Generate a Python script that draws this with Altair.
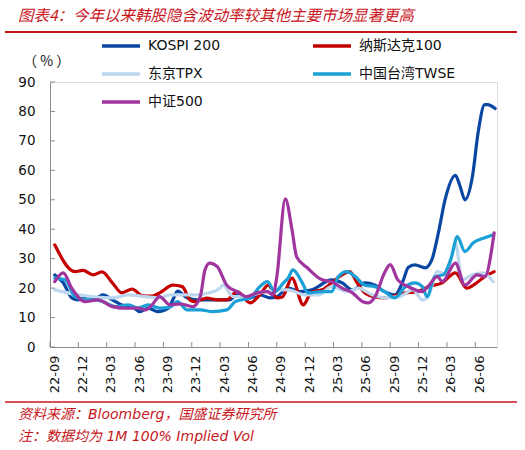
import altair as alt
import pandas as pd

title_text = "图表4：今年以来韩股隐含波动率较其他主要市场显著更高"
source_text = "资料来源：Bloomberg，国盛证券研究所"
note_text = "注：数据均为 1M 100% Implied Vol"
unit_text = "（ % ）"

series_names = ["KOSPI 200", "纳斯达克100", "东京TPX", "中国台湾TWSE", "中证500"]
series_colors = ["#0A47A3", "#C40000", "#BDD7EE", "#1AA0D6", "#A0359F"]

x_labels = ["22-09", "22-12", "23-03", "23-06", "23-09", "23-12", "24-03", "24-06",
            "24-09", "24-12", "25-03", "25-06", "25-09", "25-12", "26-03", "26-06"]
x_tick_months = [0, 3, 6, 9, 12, 15, 18, 21, 24, 27, 30, 33, 36, 39, 42, 45]
y_ticks = [0, 10, 20, 30, 40, 50, 60, 70, 80, 90]

# month index since 2022-09 (fractional) and implied vol (%)
kospi_t = [0.5, 1.4, 2.3, 3.0, 4.0, 4.8, 5.6, 6.6, 7.6, 8.7, 9.5, 10.4, 11.4, 12.5, 13.0, 13.5,
           14.5, 15.6, 19.0, 19.8, 21.2, 22.2, 23.3, 24.0, 25.2, 26.5, 27.7, 29.8, 30.9, 32.0,
           33.3, 34.4, 35.4, 36.5, 37.4, 37.9, 38.6, 39.7, 40.4, 41.1, 41.8, 42.9, 43.4, 43.9,
           44.7, 45.3, 46.0, 46.3, 47.1]
kospi_v = [24.5, 21.8, 16.7, 16.0, 17.1, 16.5, 17.7, 16.0, 14.3, 13.7, 12.0, 13.2, 12.0, 13.2, 16.0, 19.0,
           16.7, 16.0, 16.0, 17.7, 16.7, 17.7, 16.7, 17.1, 20.0, 18.8, 19.4, 22.8, 21.8, 19.4,
           21.8, 21.0, 18.8, 17.7, 22.8, 27.0, 27.9, 26.9, 29.6, 38.8, 50.0, 58.3, 54.5, 50.0,
           57.9, 72.8, 82.3, 82.3, 81.0]

nasdaq_t = [0.5, 2.65, 3.5, 4.55, 5.5, 6.6, 7.6, 8.7, 9.7, 10.8, 11.6, 13.0, 14.0, 14.8, 15.3,
            16.6, 17.7, 18.7, 19.8, 21.2, 22.2, 23.1, 24.0, 24.6, 25.6, 26.8, 27.7, 28.8, 29.8,
            30.9, 31.7, 32.5, 33.3, 34.4, 35.4, 37.6, 38.9, 40.0, 41.5, 42.9, 44.1, 44.8, 46.0, 47.0]
nasdaq_v = [34.7, 25.6, 26.0, 24.5, 25.5, 21.8, 18.4, 19.7, 17.5, 17.3, 18.4, 21.0, 20.5, 16.0, 15.4,
            16.6, 16.0, 16.0, 18.8, 15.0, 17.7, 21.0, 16.7, 17.0, 23.4, 14.3, 18.8, 19.4, 21.8,
            24.5, 25.6, 21.8, 18.4, 17.0, 16.7, 18.4, 18.8, 20.5, 21.8, 25.2, 20.0, 21.0, 23.9, 25.6]

tpx_t = [0.5, 3.0, 6.6, 8.3, 10.1, 11.6, 12.7, 13.8, 15.6, 16.9, 18.0, 18.3, 19.4, 20.8, 22.2,
         24.0, 25.2, 27.0, 28.4, 29.8, 31.5, 32.6, 34.1, 35.4, 37.0, 38.4, 39.4, 40.0, 41.0,
         42.0, 42.9, 43.6, 44.7, 45.8, 46.9]
tpx_v = [19.4, 17.7, 16.7, 17.7, 17.1, 16.7, 17.7, 17.7, 17.7, 18.4, 20.0, 21.0, 17.1, 17.1, 18.4,
         19.4, 19.4, 17.7, 17.7, 20.5, 18.8, 20.0, 17.7, 16.7, 17.1, 19.4, 16.0, 17.1, 25.6,
         24.5, 35.4, 22.8, 24.5, 25.2, 22.2]

twse_t = [0.5, 1.6, 2.65, 3.7, 4.8, 5.6, 6.9, 8.3, 9.3, 10.4, 11.6, 12.7, 13.5, 14.5, 15.9, 17.2,
          18.7, 19.6, 21.2, 22.2, 23.0, 23.8, 24.7, 25.2, 25.7, 26.7, 27.3, 28.8, 29.8, 30.5,
          31.4, 32.3, 33.3, 34.4, 35.4, 36.5, 37.6, 38.6, 39.4, 39.9, 40.7, 41.6, 42.5, 43.1,
          43.9, 44.8, 46.0, 46.9]
twse_v = [23.4, 22.8, 17.1, 16.0, 16.0, 15.4, 13.7, 14.3, 13.2, 14.3, 13.2, 13.6, 15.4, 12.6, 12.6, 12.0,
          12.6, 15.4, 16.7, 20.5, 22.2, 18.8, 21.8, 23.4, 26.2, 21.8, 18.4, 18.8, 18.8, 23.9,
          25.6, 23.9, 21.0, 20.5, 18.8, 16.7, 20.5, 21.8, 20.5, 17.1, 23.9, 24.5, 30.7, 37.5,
          32.4, 35.4, 37.1, 38.1]

csi_t = [0.5, 1.4, 2.3, 3.7, 5.1, 6.6, 7.9, 9.3, 10.1, 10.8, 11.6, 12.7, 13.8, 15.1, 15.9, 16.4,
         16.9, 17.7, 18.7, 19.8, 20.8, 21.9, 23.0, 23.6, 24.0, 24.9, 25.6, 26.1, 27.2, 28.8,
         29.8, 30.9, 32.0, 33.1, 33.7, 34.4, 35.4, 36.0, 36.8, 37.9, 39.4, 40.0, 41.0, 41.5,
         42.9, 43.9, 45.2, 46.0, 47.0]
csi_v = [22.2, 25.2, 20.0, 15.4, 16.0, 13.7, 13.2, 13.2, 12.6, 14.3, 17.1, 14.3, 14.6, 13.7, 17.1, 26.2,
         28.5, 27.3, 21.0, 18.8, 17.1, 18.4, 18.8, 17.7, 23.8, 50.3, 40.0, 30.6, 27.0, 22.8,
         22.2, 20.0, 18.4, 15.4, 15.0, 17.1, 25.2, 28.0, 22.8, 20.5, 18.8, 20.5, 23.9, 22.2,
         28.5, 21.0, 24.5, 23.9, 38.8]

rows = []
for name, ts, vs in [(series_names[0], kospi_t, kospi_v),
                     (series_names[1], nasdaq_t, nasdaq_v),
                     (series_names[2], tpx_t, tpx_v),
                     (series_names[3], twse_t, twse_v),
                     (series_names[4], csi_t, csi_v)]:
    for t, v in zip(ts, vs):
        rows.append({"series": name, "t": t, "v": v})
df = pd.DataFrame(rows)

W, H = 447, 265
RED = "#C8161D"
AXIS_GREY = "#8C8C8C"
LATIN = "DejaVu Sans, Noto Sans CJK SC"
CJK = "Noto Sans CJK SC"

label_array = "[" + ",".join("'" + s + "'" for s in x_labels) + "]"

x_scale = alt.Scale(domain=[0, 47.3], nice=False, zero=False)
y_scale = alt.Scale(domain=[0, 90], nice=False)

x_axis = alt.Axis(values=x_tick_months, labelExpr=label_array + "[round(datum.value/3)]",
                  labelAngle=270, title=None, ticks=False, grid=False,
                  labelOverlap=False, labelBound=False, labelFlush=False,
                  labelFontSize=13, labelFont=LATIN, labelColor="#111111",
                  labelPadding=8, labelOffset=4, domainColor=AXIS_GREY)
y_axis = alt.Axis(values=y_ticks, title=None, ticks=False, grid=False,
                  labelOverlap=False, labelFlush=False,
                  labelFontSize=13.5, labelFont=LATIN, labelColor="#111111",
                  labelPadding=15, domainColor=AXIS_GREY)

lines = alt.Chart(df).mark_line(
    interpolate="monotone", strokeWidth=3.2, strokeCap="round", strokeJoin="round"
).encode(
    x=alt.X("t:Q", scale=x_scale, axis=x_axis),
    y=alt.Y("v:Q", scale=y_scale, axis=y_axis),
    color=alt.Color("series:N",
                    scale=alt.Scale(domain=series_names, range=series_colors),
                    sort=series_names,
                    legend=alt.Legend(orient="none", legendX=50, legendY=-57, columns=2,
                                      direction="horizontal",
                                      title=None, symbolType="stroke", symbolSize=1444,
                                      symbolStrokeWidth=3.5, labelFontSize=14, labelFont=LATIN,
                                      labelColor="#111111", columnPadding=85, rowPadding=-5,
                                      labelOffset=6)),
)

x_tick_rules = alt.Chart(pd.DataFrame({"t": x_tick_months})).mark_rule(
    color=AXIS_GREY, strokeWidth=1
).encode(x=alt.X("t:Q", scale=x_scale, axis=x_axis), y=alt.value(H), y2=alt.value(H - 5))

y_tick_rules = alt.Chart(pd.DataFrame({"v": y_ticks})).mark_rule(
    color=AXIS_GREY, strokeWidth=1
).encode(y=alt.Y("v:Q", scale=y_scale, axis=y_axis), x=alt.value(0), x2=alt.value(5))


def text_layer(s, x, y, size, color, font, italic=False):
    kw = dict(align="left", baseline="middle", fontSize=size, color=color, font=font)
    if italic:
        kw["fontStyle"] = "italic"
    return alt.Chart(pd.DataFrame({"s": [s]})).mark_text(**kw).encode(
        text="s:N", x=alt.value(x), y=alt.value(y))


title_layer = text_layer(title_text, -32, -66, 15.5, RED, CJK, italic=True)
unit_layer = text_layer(unit_text, -27, -20, 14, "#111111", CJK)
source_layer = text_layer(source_text, -32, 333, 14, RED, LATIN, italic=True)
note_layer = text_layer(note_text, -32, 355, 14, RED, LATIN, italic=True)

top_line = alt.Chart(pd.DataFrame({"a": [0]})).mark_rule(color=RED, strokeWidth=2).encode(
    x=alt.value(-45), x2=alt.value(467), y=alt.value(-50))
bottom_line = alt.Chart(pd.DataFrame({"a": [0]})).mark_rule(color=RED, strokeWidth=1.5).encode(
    x=alt.value(-45), x2=alt.value(467), y=alt.value(320))

chart = alt.layer(
    lines, x_tick_rules, y_tick_rules,
    title_layer, unit_layer, source_layer, note_layer, top_line, bottom_line
).properties(
    width=W, height=H,
    autosize=alt.AutoSizeParams(type="none"),
    padding={"left": 50, "top": 82, "right": 28, "bottom": 103},
).configure_view(stroke=None).configure(background="white")

chart.save("out.html", embed_options={"renderer": "svg", "actions": False})
